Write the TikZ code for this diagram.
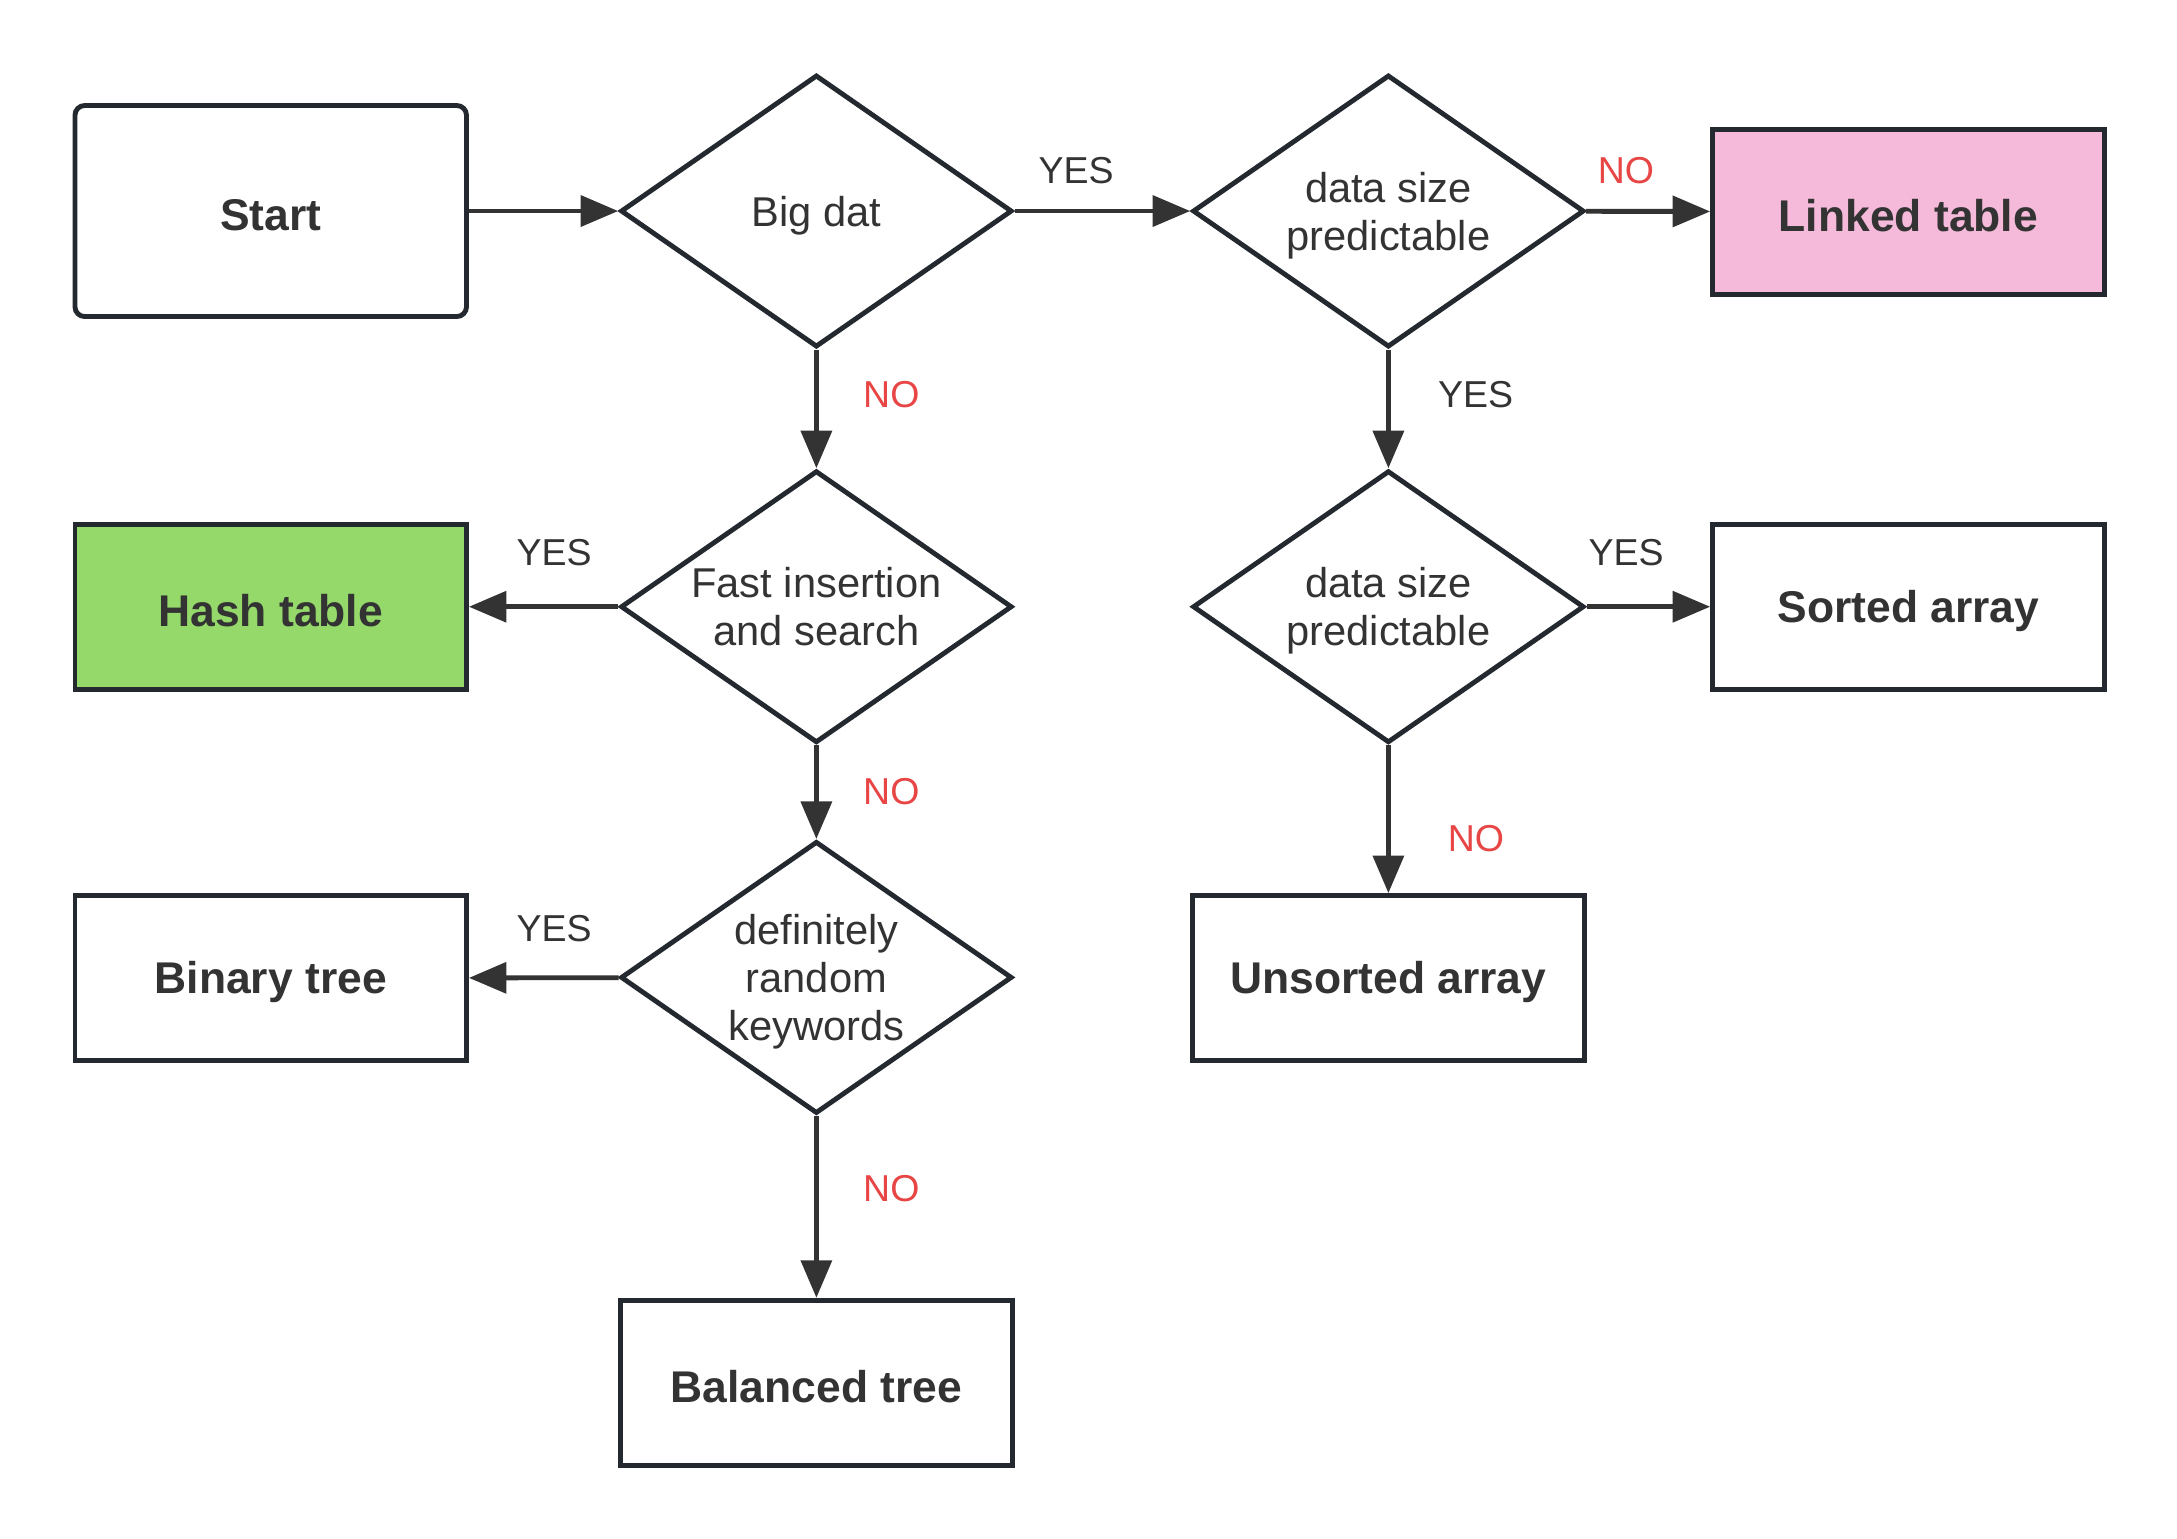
\documentclass[tikz,border=0pt]{standalone}
\usepackage{fontspec}
\setmainfont{Liberation Sans}
\usetikzlibrary{shapes.geometric,arrows.meta}
\definecolor{lineDark}{RGB}{35,41,47}
\definecolor{arrowDark}{RGB}{51,51,51}
\definecolor{textDark}{RGB}{51,51,51}
\definecolor{noRed}{RGB}{232,69,69}
\definecolor{pinkFill}{RGB}{245,185,217}
\definecolor{greenFill}{RGB}{148,217,106}

\tikzset{
  box/.style={draw=lineDark, line width=3.5pt, minimum width=282pt, minimum height=119pt,
    inner sep=0pt, text=textDark, font=\fontsize{32}{38}\selectfont\bfseries,
    execute at begin node={\rule{0pt}{29pt}}},
  startbox/.style={box, rounded corners=7pt, minimum height=152pt},
  decision/.style={diamond, draw=lineDark, line width=3.5pt, minimum width=282pt, minimum height=196pt,
    inner sep=-30pt, align=center, text=textDark, font=\fontsize{30}{34.5}\selectfont,
    text depth=-10pt},
  flow/.style={draw=arrowDark, line width=3.5pt, -{Triangle[length=27pt,width=22pt]}},
  yeslbl/.style={inner sep=0pt, text=textDark, font=\fontsize{27}{30}\selectfont},
  nolbl/.style={yeslbl, text=noRed},
}

\begin{document}
\begin{tikzpicture}[x=1pt, y=-1pt]
  % page
  \fill[white] (0,0) rectangle (1568,1108);
  \useasboundingbox (0,0) rectangle (1568,1108);

  % first row
  \node[startbox] (start) at (195,152) {Start};
  \node[decision] (bigdat) at (588,152) {Big dat};
  \node[decision] (sizeA) at (1000,152) {data size\\predictable};
  \node[box, fill=pinkFill] (linked) at (1374.5,152.5) {Linked table};

  % second row
  \node[box, fill=greenFill] (hash) at (195,437) {Hash table};
  \node[decision] (fast) at (588,437) {Fast insertion\\and search};
  \node[decision] (sizeB) at (1000,437) {data size\\predictable};
  \node[box] (sorted) at (1374.5,437) {Sorted array};

  % third row
  \node[box] (binary) at (195,704.5) {Binary tree};
  \node[decision] (random) at (588,704) {definitely\\random\\keywords};
  \node[box] (unsorted) at (1000,704.5) {Unsorted array};

  % last row
  \node[box] (balanced) at (588,996) {Balanced tree};

  % connectors
  \draw[flow] (start) -- (bigdat);
  \draw[flow] (bigdat) -- node[yeslbl, above=18pt, pos=0.35] {YES} (sizeA);
  \draw[flow] (sizeA) -- node[nolbl, above=18pt, pos=0.32] {NO} (linked);
  \draw[flow] (bigdat) -- node[nolbl, right=32pt, pos=0.38] {NO} (fast);
  \draw[flow] (sizeA) -- node[yeslbl, right=34pt, pos=0.38] {YES} (sizeB);
  \draw[flow] (fast) -- node[yeslbl, above=28pt, pos=0.43] {YES} (hash);
  \draw[flow] (sizeB) -- node[yeslbl, above=28pt, pos=0.32] {YES} (sorted);
  \draw[flow] (fast) -- node[nolbl, right=32pt, pos=0.49] {NO} (random);
  \draw[flow] (sizeB) -- node[nolbl, right=41pt, pos=0.63] {NO} (unsorted);
  \draw[flow] (random) -- node[yeslbl, above=24pt, pos=0.43] {YES} (binary);
  \draw[flow] (random) -- node[nolbl, right=32pt, pos=0.40] {NO} (balanced);
\end{tikzpicture}
\end{document}
